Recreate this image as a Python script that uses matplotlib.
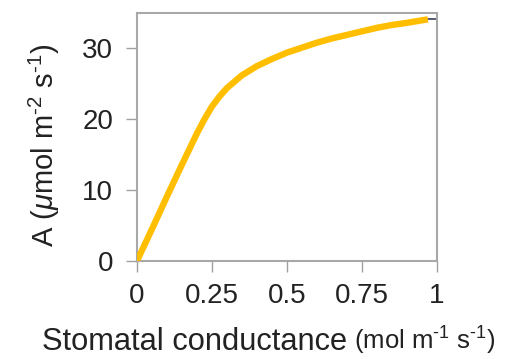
import matplotlib
matplotlib.use("Agg")
import matplotlib.pyplot as plt

plt.rcParams['font.family'] = ['Liberation Sans', 'DejaVu Sans']
plt.rcParams['mathtext.fontset'] = 'custom'
plt.rcParams['mathtext.rm'] = 'Liberation Sans'
plt.rcParams['mathtext.it'] = 'Liberation Sans:italic'

# Data
gs = [0, 0.05, 0.10, 0.15, 0.20, 0.225, 0.25, 0.275, 0.30, 0.35, 0.40, 0.45, 0.50,
      0.55, 0.60, 0.65, 0.70, 0.75, 0.80, 0.85, 0.90, 0.97]
A = [0, 4.5, 9.1, 13.6, 18.0, 20.0, 21.8, 23.2, 24.4, 26.2, 27.5, 28.5, 29.4,
     30.1, 30.8, 31.4, 31.9, 32.4, 32.9, 33.3, 33.6, 34.1]
xticks = [0, 0.25, 0.5, 0.75, 1]
xticklabels = ['0', '0.25', '0.5', '0.75', '1']
yticks = [0, 10, 20, 30]

fig = plt.figure(figsize=(5.11, 3.59), dpi=100)
ax = fig.add_axes([0.268, 0.273, 0.587, 0.691])

ax.plot([gs[-1], 1.0], [A[-1], A[-1]], color='#3a3f5a', lw=1.2, zorder=2)
ax.plot(gs, A, color='#FFBF00', lw=4.6, solid_capstyle='butt',
        solid_joinstyle='round', zorder=3)

ax.set_xlim(0, 1)
ax.set_ylim(0, 35)
ax.set_xticks(xticks)
ax.set_xticklabels(xticklabels)
ax.set_yticks(yticks)

for s in ax.spines.values():
    s.set_color('#a8a8a8')
    s.set_linewidth(1.5)
ax.tick_params(axis='both', colors='#a0a0a0', labelcolor='#222222',
               labelsize=20, length=8, width=1.0)
ax.tick_params(axis='x', pad=8)
ax.tick_params(axis='y', pad=9)

ax.set_ylabel(r'A ($\mathit{\mu}$mol m$^{\text{-}2}$ s$^{\text{-}1}$)', fontsize=21,
              color='#222222')
ax.yaxis.set_label_coords(-0.25, 0.465)

t1 = fig.text(0.082, 0.025, 'Stomatal conductance', fontsize=22.2, color='#222222',
              ha='left', va='baseline')
ax.annotate(r'(mol m$^{\text{-}1}$ s$^{\text{-}1}$)', xy=(1, 0), xycoords=t1, xytext=(5, 0),
            textcoords='offset points', fontsize=18.5, color='#222222',
            ha='left', va='bottom')

fig.savefig('out.png', dpi=100, facecolor='white')
